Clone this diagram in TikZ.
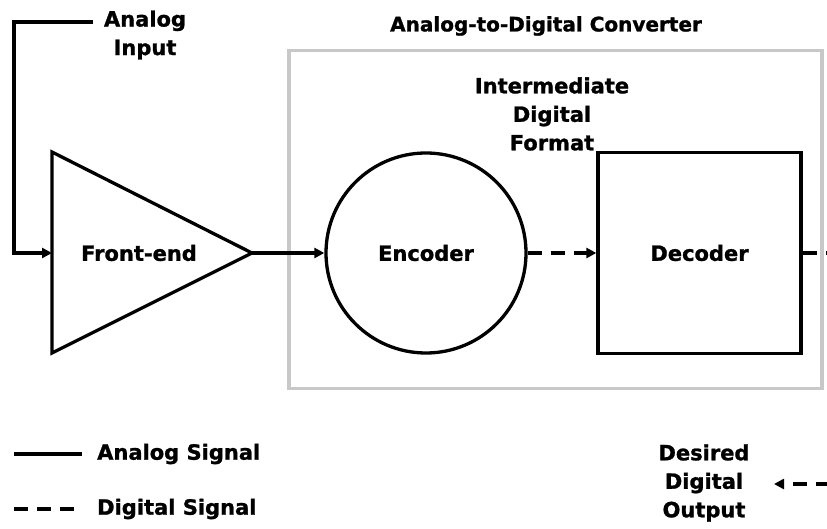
\documentclass[tikz,border=0pt]{standalone}
\usepackage{fontspec}
\setmainfont{DejaVu Sans}
\newfontfamily\lblfont{DejaVu Sans Bold}[FakeBold=1.2]
\usetikzlibrary{arrows.meta}
\definecolor{boxgray}{RGB}{200,200,200}
\begin{document}
\begin{tikzpicture}[x=1pt,y=-1pt,
  lbl/.style={font=\lblfont\fontsize{21}{28.5}\selectfont, align=center, inner sep=0pt},
  wire/.style={line width=3.3pt, line join=miter},
  sig/.style={wire, -{Triangle[length=10pt,width=10pt]}},
  dig/.style={dash pattern=on 14pt off 9pt},
  blockshape/.style={draw, line width=3.3pt, inner sep=0pt}]
\useasboundingbox (0,0) rectangle (827,529);

% converter frame and its title
\node[draw=boxgray, line width=3.3pt, minimum width=533pt, minimum height=338pt,
      inner sep=0pt] (adc) at (555.5,219.5) {};
\node[lbl, font=\lblfont\fontsize{20}{28}\selectfont] (adctitle) at (546,26) {Analog-to-Digital Converter};

% front-end amplifier
\coordinate (ftop) at (52,152);
\coordinate (fbot) at (52,353);
\coordinate (fin)  at (52,253);
\coordinate (fout) at (252,253);
\draw[wire] (ftop) -- (fout) -- (fbot) -- cycle;
\node[lbl] (fe) at (139,253) {Front-end};

% encoder and decoder
\node[blockshape, circle, minimum size=200pt] (enc) at (426,253) {};
\node[lbl] at (enc.center) {Encoder};
\node[blockshape, minimum width=203pt, minimum height=201pt] (dec) at (699.5,253) {};
\node[lbl] at (dec.center) {Decoder};
\node[lbl] (fmt) at (552,114) {Intermediate\\Digital\\Format};

% analog input
\node[lbl] (ain) at (145,35) {Analog\\Input};
\coordinate (ainend) at (93,22);
\draw[sig] (ainend) -- (14,22) -- (14,253) -- (fin);

% signal path
\draw[sig] (fout) -- (enc.west);
\draw[sig, dig] (enc.east) -- (dec.west);
\coordinate (exitpt) at (830,253);
\draw[wire, dig] (dec.east) -- (exitpt);

% desired output
\node[lbl] (dout) at (704,483) {Desired\\Digital\\Output};
\coordinate (doutsrc) at (830,484);
\coordinate (douttip) at (774,484);
\draw[sig, dig] (doutsrc) -- (douttip);

% legend
\coordinate (la1) at (14,454);
\coordinate (la2) at (82,454);
\coordinate (ld1) at (14,509);
\coordinate (ld2) at (82,509);
\draw[wire] (la1) -- (la2);
\draw[wire, dig] (ld1) -- (ld2);
\node[lbl, anchor=west] (lan) at (97,454) {Analog Signal};
\node[lbl, anchor=west] (ldg) at (97,509) {Digital Signal};
\end{tikzpicture}
\end{document}
